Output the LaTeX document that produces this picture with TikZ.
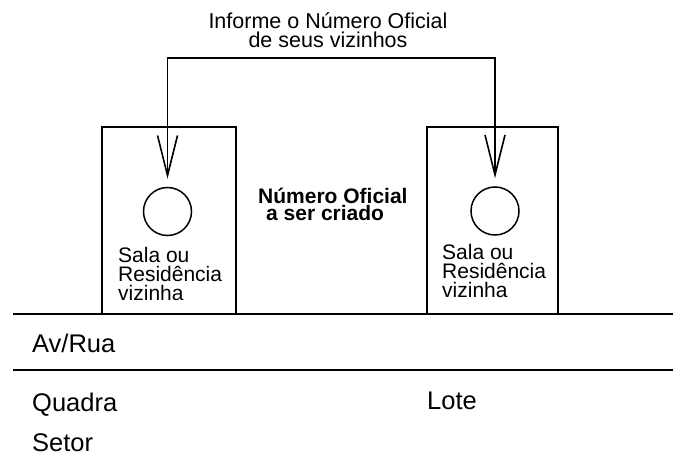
\documentclass[tikz,border=0pt]{standalone}
\usepackage{fontspec}
\setmainfont{Liberation Sans}
\usetikzlibrary{arrows.meta,calc}
\tikzset{
  housebox/.style={draw, line width=1.8pt, inner sep=0pt, minimum width=#1, minimum height=187pt},
  spot/.style={draw, circle, line width=1.5pt, inner sep=0pt, minimum size=48pt},
  lbl/.style={inner sep=0pt, anchor=base west, font=\fontsize{25.5}{30}\selectfont},
  small/.style={inner sep=0pt, align=left, font=\fontsize{21}{18.6}\selectfont},
  link/.style={line width=1.6pt, {Straight Barb[length=40pt,width=20pt,line width=1.6pt]}-{Straight Barb[length=40pt,width=20pt,line width=1.6pt]}},
  ground/.style={line width=1.8pt}
}
\begin{document}
\begin{tikzpicture}[x=1pt,y=-1pt]
\useasboundingbox (0,0) rectangle (681,455);
% houses
\node[housebox=134pt] (b1) at (169,220.5) {};
\node[housebox=131pt] (b2) at (492.5,220.5) {};
\node[spot] (c1) at (167.5,211.5) {};
\node[spot] (c2) at (495,211) {};
% labels inside houses
\node[small, anchor=base west] (t1) at (118,300) {Sala ou\\Residência\\vizinha};
\node[small, anchor=base west] (t2) at (442,297) {Sala ou\\Residência\\vizinha};
% connector
\coordinate (top) at (0,58);
\draw[link] ($(c1.north)+(0,-8)$) -- (c1.north |- top) -- (c2.north |- top) -- ($(c2.north)+(0,-8)$);
% top text
\node[inner sep=0pt, align=center, anchor=base, font=\fontsize{21.5}{19}\selectfont] (info) at (328,47) {Informe o Número Oficial\\de seus vizinhos};
% middle bold text
\node[inner sep=0pt, align=left, anchor=base west, font=\bfseries\fontsize{21}{17}\selectfont] (novo) at (258,220) {Número Oficial\\\hspace*{8pt}a ser criado};
% ground lines
\draw[ground] (13,314) -- (673,314);
\draw[ground] (13,370) -- (673,370);
% bottom labels
\node[lbl] (rua) at (32,352) {Av/Rua};
\node[lbl] (quadra) at (32,411) {Quadra};
\node[lbl] (setor) at (32,451) {Setor};
\node[lbl] (lote) at (427,409) {Lote};
\end{tikzpicture}
\end{document}
